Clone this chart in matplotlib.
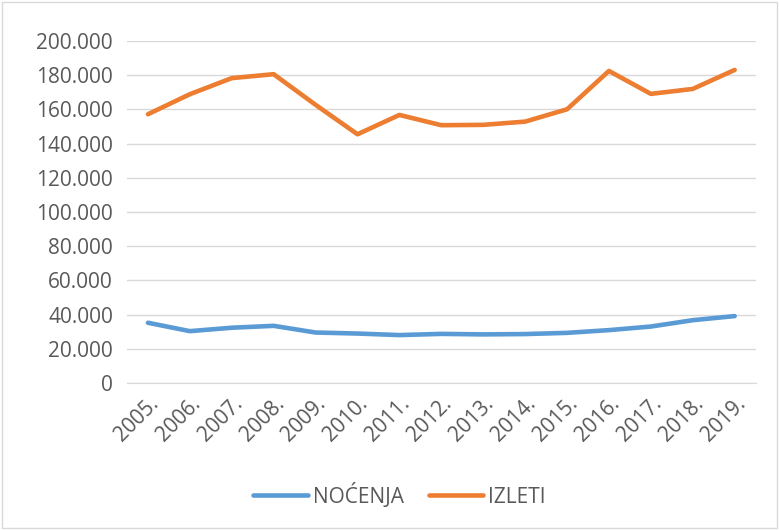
import matplotlib.pyplot as plt
from matplotlib.ticker import FuncFormatter
from matplotlib.patches import Rectangle

plt.rcParams['font.family'] = ['Open Sans', 'DejaVu Sans']

years = ['2005.', '2006.', '2007.', '2008.', '2009.', '2010.', '2011.', '2012.',
         '2013.', '2014.', '2015.', '2016.', '2017.', '2018.', '2019.']
nocenja = [35300, 30400, 32400, 33500, 29600, 29000, 28100, 28800,
           28500, 28700, 29400, 31000, 33100, 36800, 39200]
izleti = [157100, 168800, 178200, 180500, 162600, 145400, 156700, 150700,
          150900, 152800, 160000, 182400, 169000, 171900, 183000]

text_col = '#595959'
grid_col = '#D9D9D9'

fig = plt.figure(figsize=(7.79, 5.30), dpi=100)
ax = fig.add_axes([0.163, 0.277, 0.807, 0.646])

x = range(len(years))
ax.plot(x, nocenja, color='#5B9BD5', lw=3.3, solid_capstyle='round', label='NOĆENJA')
ax.plot(x, izleti, color='#ED7D31', lw=3.3, solid_capstyle='round', label='IZLETI')

ax.set_xlim(-0.5, len(years) - 0.5)
ax.set_ylim(0, 200000)
ax.set_yticks(range(0, 200001, 20000))
ax.yaxis.set_major_formatter(FuncFormatter(lambda v, p: f'{int(v):,}'.replace(',', '.')))
ax.set_xticks(list(x))
ax.set_xticklabels(years, rotation=45, ha='right', rotation_mode='anchor')

ax.grid(axis='y', color=grid_col, lw=1)
ax.set_axisbelow(True)
for s in ['top', 'right', 'left']:
    ax.spines[s].set_visible(False)
ax.spines['bottom'].set_color(grid_col)
ax.tick_params(axis='both', length=0, colors=text_col, labelsize=15)
ax.tick_params(axis='y', pad=10)
ax.tick_params(axis='x', pad=7)

leg = fig.legend(loc='center', bbox_to_anchor=(0.513, 0.066), ncol=2, frameon=False,
                 fontsize=15, handlelength=2.6, columnspacing=1.2, handletextpad=0.25)
for t in leg.get_texts():
    t.set_color(text_col)

fig.patches.append(Rectangle((0.003, 0.003), 0.994, 0.994, transform=fig.transFigure,
                             fill=False, edgecolor=grid_col, lw=1))

fig.savefig('out.png', dpi=100)
